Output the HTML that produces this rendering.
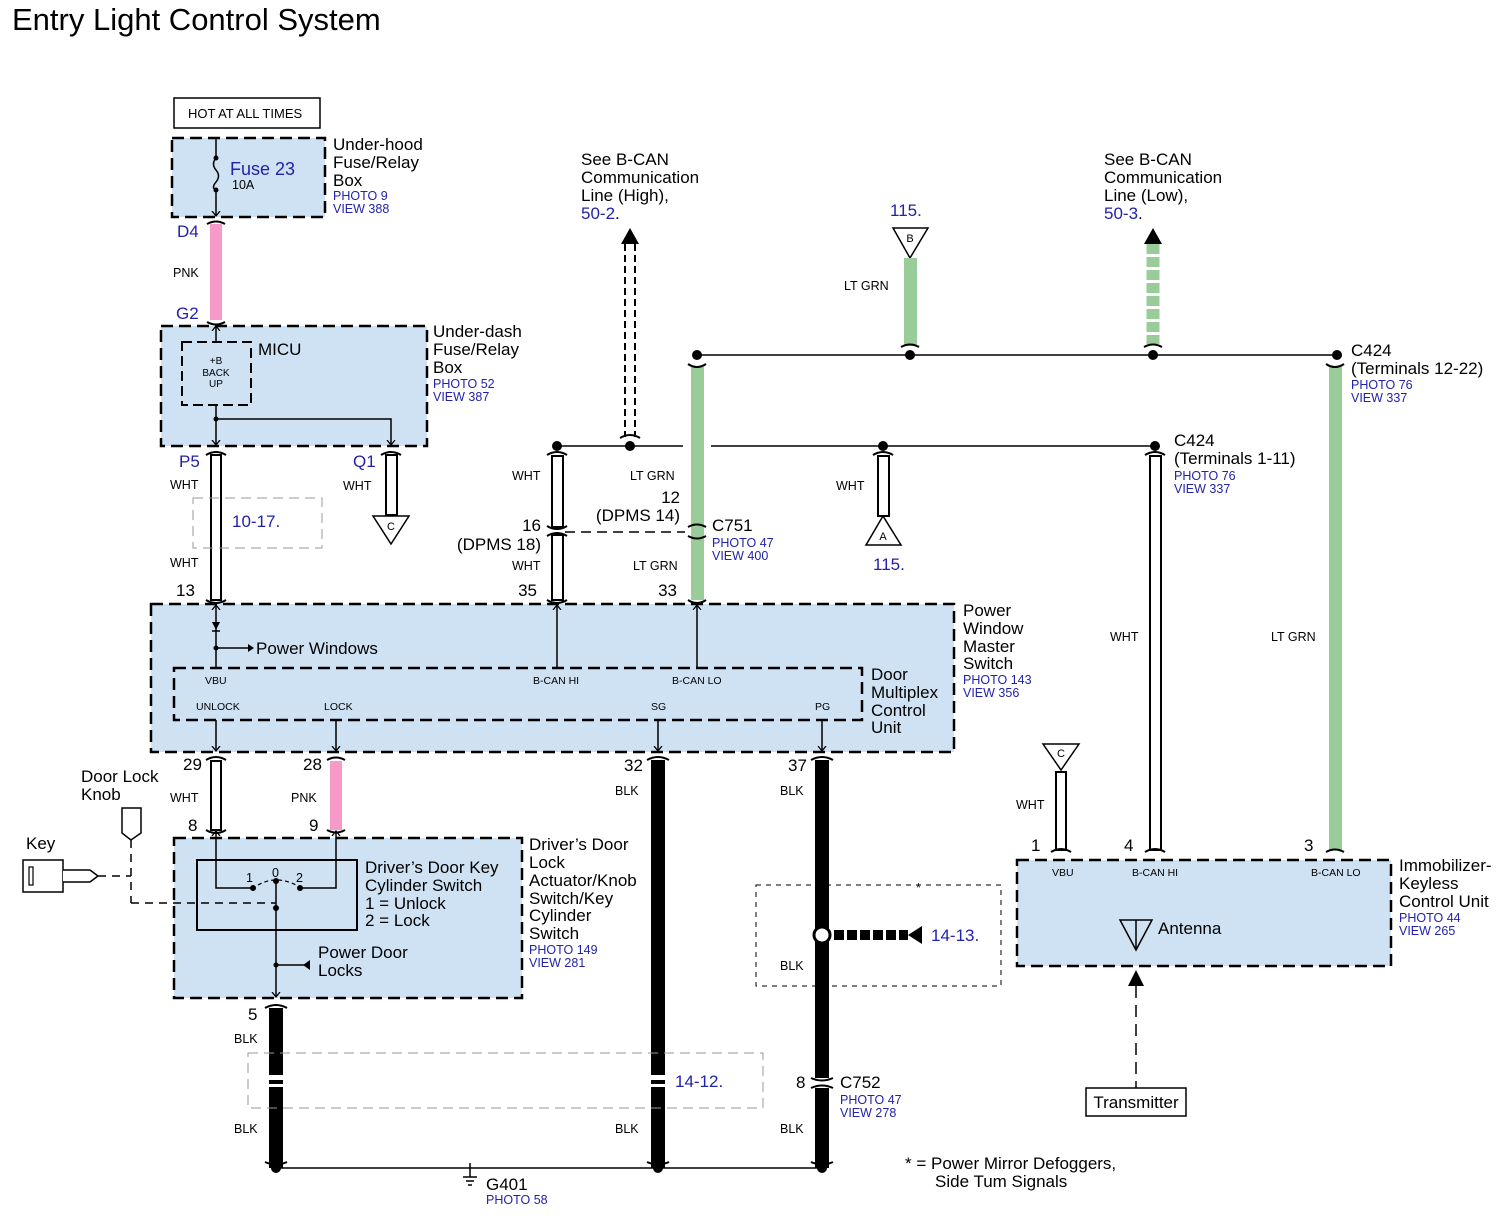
<!DOCTYPE html>
<html><head><meta charset="utf-8"><style>
html,body{margin:0;padding:0;background:#fff}
svg{display:block}
text{font-family:"Liberation Sans",sans-serif;fill:#000}
.b{fill:#2222aa}
.s{font-size:12.5px}
.m{font-size:17px}
.l{font-size:18px}
</style></head><body>
<svg width="1510" height="1222" viewBox="0 0 1510 1222" xmlns="http://www.w3.org/2000/svg">
<defs>
<marker id="ah" markerWidth="10" markerHeight="10" refX="5" refY="5" orient="auto" markerUnits="userSpaceOnUse"><path d="M0,1 L5,5 L0,9" fill="none" stroke="#000" stroke-width="1.3"/></marker>
</defs>
<text x="12" y="30" style="font-size:31px">Entry Light Control System</text>

<rect x="174" y="98" width="146" height="30" fill="#fff" stroke="#000" stroke-width="1.5"/>
<text x="188" y="118" style="font-size:13px">HOT AT ALL TIMES</text>

<rect x="172" y="138" width="153" height="79" fill="#cfe2f3" stroke="#000" stroke-width="2.5" stroke-dasharray="12,6"/>
<line x1="216" y1="138" x2="216" y2="158" stroke="#000" stroke-width="1.5"/>
<path d="M216,158 q-5,6 0,12 q5,6 0,12 q-5,6 0,8" fill="none" stroke="#000" stroke-width="1.5"/>
<circle cx="216" cy="158" r="2.5"/><circle cx="216" cy="190" r="2.5"/>
<line x1="216" y1="190" x2="216" y2="216" stroke="#000" stroke-width="1.5" marker-end="url(#ah)"/>
<text x="230" y="175" class="l b">Fuse 23</text>
<text x="232" y="189" class="s">10A</text>
<text x="333" y="150" class="m">Under-hood</text><text x="333" y="168" class="m">Fuse/Relay</text><text x="333" y="186" class="m">Box</text>
<text x="333" y="200" class="s b">PHOTO 9</text><text x="333" y="213" class="s b">VIEW 388</text>

<path d="M207,224 q9,-5 18,0 M207,322 q9,5 18,0" fill="none" stroke="#000" stroke-width="2"/>
<rect x="210" y="224" width="12" height="96" fill="#f79ac8"/>
<text x="177" y="237" class="m b">D4</text>
<text x="173" y="277" class="s">PNK</text>
<text x="176" y="319" class="m b">G2</text>

<rect x="161" y="326" width="266" height="120" fill="#cfe2f3" stroke="#000" stroke-width="2.5" stroke-dasharray="12,6"/>
<rect x="182" y="342" width="69" height="63" fill="#cfe2f3" stroke="#000" stroke-width="2" stroke-dasharray="10,5"/>
<line x1="216" y1="342" x2="216" y2="326" stroke="#000" stroke-width="1.5" marker-end="url(#ah)"/>
<text x="216" y="364" text-anchor="middle" style="font-size:10px">+B</text>
<text x="216" y="376" text-anchor="middle" style="font-size:10px">BACK</text>
<text x="216" y="387" text-anchor="middle" style="font-size:10px">UP</text>
<text x="258" y="355" class="m">MICU</text>
<line x1="216" y1="405" x2="216" y2="445" stroke="#000" stroke-width="1.5" marker-end="url(#ah)"/>
<circle cx="216" cy="419" r="2.5"/>
<polyline points="216,419 391,419 391,445" fill="none" stroke="#000" stroke-width="1.5" marker-end="url(#ah)"/>
<text x="433" y="337" class="m">Under-dash</text><text x="433" y="355" class="m">Fuse/Relay</text><text x="433" y="373" class="m">Box</text>
<text x="433" y="388" class="s b">PHOTO 52</text><text x="433" y="401" class="s b">VIEW 387</text>

<g stroke="#000" stroke-width="2" fill="none">
<path d="M206,455 q10,-6 20,0 M206,600 q10,6 20,0 M381,455 q10,-6 20,0"/>
</g>
<rect x="211" y="455" width="10" height="145" fill="#fff" stroke="#000" stroke-width="2"/>
<text x="179" y="467" class="m b">P5</text>
<text x="170" y="489" class="s">WHT</text>
<text x="170" y="567" class="s">WHT</text>
<text x="176" y="596" class="m">13</text>
<rect x="193" y="498" width="129" height="50" fill="none" stroke="#999" stroke-width="1" stroke-dasharray="10,6"/>
<rect x="209" y="500" width="14" height="46" fill="#fff"/>
<line x1="211" y1="500" x2="211" y2="546" stroke="#000" stroke-width="2"/><line x1="221" y1="500" x2="221" y2="546" stroke="#000" stroke-width="2"/>
<text x="232" y="527" class="m b">10-17.</text>
<rect x="386" y="455" width="11" height="60" fill="#fff" stroke="#000" stroke-width="2"/>
<polygon points="373,516 409,516 391,544" fill="#fff" stroke="#000" stroke-width="1.5"/>
<text x="391" y="530" text-anchor="middle" style="font-size:11px">C</text>
<text x="353" y="467" class="m b">Q1</text>
<text x="343" y="490" class="s">WHT</text>

<line x1="697" y1="355" x2="1337" y2="355" stroke="#000" stroke-width="1.5"/>
<circle cx="697" cy="355" r="5"/><circle cx="910" cy="355" r="5"/><circle cx="1153" cy="355" r="5"/><circle cx="1337" cy="355" r="5"/>
<line x1="557" y1="446" x2="683" y2="446" stroke="#000" stroke-width="1.5"/>
<line x1="711" y1="446" x2="1155" y2="446" stroke="#000" stroke-width="1.5"/>
<circle cx="557" cy="446" r="5"/><circle cx="630" cy="446" r="5"/><circle cx="883" cy="446" r="5"/><circle cx="1155" cy="446" r="5"/>

<g stroke="#000" stroke-width="2" fill="none">
<line x1="625" y1="244" x2="625" y2="437" stroke-dasharray="7,4"/>
<line x1="635" y1="244" x2="635" y2="437" stroke-dasharray="7,4"/>
<path d="M620,438 q10,-6 20,0"/>
</g>
<polygon points="621,244 639,244 630,228" fill="#000"/>
<text x="581" y="165" class="m">See B-CAN</text><text x="581" y="183" class="m">Communication</text><text x="581" y="201" class="m">Line (High),</text>
<text x="581" y="219" class="m"><tspan class="b">50-2</tspan>.</text>

<text x="890" y="216" class="m b">115.</text>
<polygon points="893,228 928,228 910,258" fill="#fff" stroke="#000" stroke-width="1.5"/>
<text x="910" y="242" text-anchor="middle" style="font-size:11px">B</text>
<rect x="904" y="258" width="13" height="88" fill="#99cc99"/>
<path d="M901,347 q9,-5 18,0" stroke="#000" stroke-width="2" fill="none"/>
<text x="844" y="290" class="s">LT GRN</text>

<line x1="1153" y1="244" x2="1153" y2="344" stroke="#99cc99" stroke-width="13" stroke-dasharray="10,3"/>
<polygon points="1144,244 1162,244 1153,228" fill="#000"/>
<path d="M1144,347 q9,-5 18,0" stroke="#000" stroke-width="2" fill="none"/>
<text x="1104" y="165" class="m">See B-CAN</text><text x="1104" y="183" class="m">Communication</text><text x="1104" y="201" class="m">Line (Low),</text>
<text x="1104" y="219" class="m"><tspan class="b">50-3</tspan>.</text>

<text x="1351" y="356" class="m">C424</text><text x="1351" y="374" class="m">(Terminals 12-22)</text>
<text x="1351" y="389" class="s b">PHOTO 76</text><text x="1351" y="402" class="s b">VIEW 337</text>
<rect x="1329" y="367" width="13" height="483" fill="#99cc99"/>
<path d="M1326,364 q9,6 18,0 M1326,852 q9,-5 18,0" stroke="#000" stroke-width="2" fill="none"/>
<text x="1271" y="641" class="s">LT GRN</text>

<text x="1174" y="446" class="m">C424</text><text x="1174" y="464" class="m">(Terminals 1-11)</text>
<text x="1174" y="480" class="s b">PHOTO 76</text><text x="1174" y="493" class="s b">VIEW 337</text>
<rect x="1150" y="456" width="11" height="394" fill="#fff" stroke="#000" stroke-width="2"/>
<path d="M1145,455 q10,-6 20,0 M1145,852 q10,-6 20,0" stroke="#000" stroke-width="2" fill="none"/>
<text x="1110" y="641" class="s">WHT</text>

<rect x="878" y="456" width="11" height="60" fill="#fff" stroke="#000" stroke-width="2"/>
<path d="M873,455 q10,-6 20,0" stroke="#000" stroke-width="2" fill="none"/>
<polygon points="866,545 901,545 883,516" fill="#fff" stroke="#000" stroke-width="1.5"/>
<text x="883" y="540" text-anchor="middle" style="font-size:11px">A</text>
<text x="873" y="570" class="m b">115.</text>
<text x="836" y="490" class="s">WHT</text>

<rect x="552" y="456" width="11" height="71" fill="#fff" stroke="#000" stroke-width="2"/>
<rect x="552" y="535" width="11" height="65" fill="#fff" stroke="#000" stroke-width="2"/>
<path d="M547,455 q10,-6 20,0 M547,526 q10,6 20,0 M547,536 q10,-6 20,0 M547,600 q10,6 20,0" stroke="#000" stroke-width="2" fill="none"/>
<line x1="565" y1="532" x2="685" y2="532" stroke="#000" stroke-width="1.5" stroke-dasharray="10,6"/>
<text x="512" y="480" class="s">WHT</text>
<text x="541" y="531" class="m" text-anchor="end">16</text>
<text x="541" y="550" class="m" text-anchor="end">(DPMS 18)</text>
<text x="512" y="570" class="s">WHT</text>
<text x="537" y="596" class="m" text-anchor="end">35</text>

<rect x="691" y="367" width="13" height="233" fill="#99cc99"/>
<path d="M688,364 q9,6 18,0 M688,527 q9,-5 18,0 M688,536 q9,5 18,0 M688,600 q9,6 18,0" stroke="#000" stroke-width="2" fill="none"/>
<text x="630" y="480" class="s">LT GRN</text>
<text x="680" y="503" class="m" text-anchor="end">12</text>
<text x="680" y="521" class="m" text-anchor="end">(DPMS 14)</text>
<text x="712" y="531" class="m">C751</text>
<text x="712" y="547" class="s b">PHOTO 47</text><text x="712" y="560" class="s b">VIEW 400</text>
<text x="633" y="570" class="s">LT GRN</text>
<text x="677" y="596" class="m" text-anchor="end">33</text>

<rect x="151" y="604" width="803" height="148" fill="#cfe2f3" stroke="#000" stroke-width="2.5" stroke-dasharray="12,6"/>
<rect x="174" y="668" width="688" height="52" fill="none" stroke="#000" stroke-width="2.5" stroke-dasharray="12,6"/>
<line x1="216" y1="668" x2="216" y2="605" stroke="#000" stroke-width="1.5" marker-end="url(#ah)"/>
<polygon points="212,622 220,622 216,630" fill="#000"/><line x1="212" y1="631" x2="220" y2="631" stroke="#000" stroke-width="1.5"/>
<circle cx="216" cy="648" r="2.5"/>
<line x1="216" y1="648" x2="248" y2="648" stroke="#000" stroke-width="1.5"/><polygon points="248,644 254,648 248,652" fill="#000"/>
<text x="256" y="654" class="m">Power Windows</text>
<line x1="557" y1="668" x2="557" y2="605" stroke="#000" stroke-width="1.5" marker-end="url(#ah)"/>
<line x1="697" y1="668" x2="697" y2="605" stroke="#000" stroke-width="1.5" marker-end="url(#ah)"/>
<text x="205" y="684" style="font-size:10.5px">VBU</text>
<text x="533" y="684" style="font-size:10.5px">B-CAN HI</text>
<text x="672" y="684" style="font-size:10.5px">B-CAN LO</text>
<text x="196" y="710" style="font-size:10.5px">UNLOCK</text>
<text x="324" y="710" style="font-size:10.5px">LOCK</text>
<text x="651" y="710" style="font-size:10.5px">SG</text>
<text x="815" y="710" style="font-size:10.5px">PG</text>
<line x1="216" y1="720" x2="216" y2="751" stroke="#000" stroke-width="1.5" marker-end="url(#ah)"/>
<line x1="336" y1="720" x2="336" y2="751" stroke="#000" stroke-width="1.5" marker-end="url(#ah)"/>
<line x1="658" y1="720" x2="658" y2="751" stroke="#000" stroke-width="1.5" marker-end="url(#ah)"/>
<line x1="822" y1="720" x2="822" y2="751" stroke="#000" stroke-width="1.5" marker-end="url(#ah)"/>
<text x="871" y="680" class="m">Door</text><text x="871" y="698" class="m">Multiplex</text><text x="871" y="716" class="m">Control</text><text x="871" y="733" class="m">Unit</text>
<text x="963" y="616" class="m">Power</text><text x="963" y="634" class="m">Window</text><text x="963" y="652" class="m">Master</text><text x="963" y="669" class="m">Switch</text>
<text x="963" y="684" class="s b">PHOTO 143</text><text x="963" y="697" class="s b">VIEW 356</text>

<rect x="211" y="761" width="10" height="69" fill="#fff" stroke="#000" stroke-width="2"/>
<path d="M206,760 q10,-6 20,0 M206,830 q10,6 20,0 M327,760 q9,-5 18,0 M327,830 q9,5 18,0" stroke="#000" stroke-width="2" fill="none"/>
<rect x="330" y="761" width="12" height="69" fill="#f79ac8"/>
<text x="183" y="770" class="m">29</text><text x="170" y="802" class="s">WHT</text><text x="188" y="831" class="m">8</text>
<text x="303" y="770" class="m">28</text><text x="291" y="802" class="s">PNK</text><text x="309" y="831" class="m">9</text>
<rect x="651" y="760" width="14" height="408" fill="#000"/>
<rect x="815" y="760" width="14" height="408" fill="#000"/>
<path d="M647,760 q11,-6 22,0 M811,760 q11,-6 22,0" stroke="#000" stroke-width="2" fill="none"/>
<text x="624" y="771" class="m">32</text><text x="615" y="795" class="s">BLK</text>
<text x="788" y="771" class="m">37</text><text x="780" y="795" class="s">BLK</text>
<text x="615" y="1133" class="s">BLK</text>
<text x="780" y="1133" class="s">BLK</text>

<rect x="812" y="1078" width="20" height="10" fill="#fff"/>
<path d="M811,1078 q11,5 22,0 M811,1088 q11,-5 22,0" stroke="#000" stroke-width="2" fill="none"/>
<text x="796" y="1088" class="m">8</text>
<text x="840" y="1088" class="m">C752</text>
<text x="840" y="1104" class="s b">PHOTO 47</text><text x="840" y="1117" class="s b">VIEW 278</text>

<rect x="756" y="885" width="245" height="101" fill="none" stroke="#000" stroke-width="1" stroke-dasharray="5,5"/>
<text x="916" y="892" class="s">*</text>
<circle cx="822" cy="935" r="8" fill="#fff" stroke="#000" stroke-width="3"/>
<line x1="834" y1="935" x2="908" y2="935" stroke="#000" stroke-width="10" stroke-dasharray="10,3"/>
<polygon points="908,926 908,944 922,935" fill="#000" transform="rotate(180 915 935)"/>
<text x="931" y="941" class="m b">14-13.</text>
<text x="780" y="970" class="s">BLK</text>

<rect x="174" y="838" width="348" height="160" fill="#cfe2f3" stroke="#000" stroke-width="2.5" stroke-dasharray="12,6"/>
<rect x="197" y="860" width="160" height="70" fill="none" stroke="#000" stroke-width="2"/>
<polyline points="253,888 216,888 216,831" fill="none" stroke="#000" stroke-width="1.5" marker-end="url(#ah)"/>
<polyline points="300,888 336,888 336,831" fill="none" stroke="#000" stroke-width="1.5" marker-end="url(#ah)"/>
<circle cx="253" cy="888" r="3"/><circle cx="300" cy="888" r="3"/><circle cx="276" cy="881" r="3"/><circle cx="276" cy="908" r="3"/>
<path d="M258,885 q18,-10 38,0" fill="none" stroke="#000" stroke-width="1.2" stroke-dasharray="4,3"/>
<line x1="276" y1="881" x2="276" y2="997" stroke="#000" stroke-width="1.5" marker-end="url(#ah)"/>
<circle cx="276" cy="965" r="2.5"/>
<line x1="276" y1="965" x2="304" y2="965" stroke="#000" stroke-width="1.5"/><polygon points="310,960 310,970 303,965" fill="#000"/>
<text x="246" y="882" class="s">1</text><text x="272" y="877" class="s">0</text><text x="296" y="882" class="s">2</text>
<text x="365" y="873" class="m">Driver’s Door Key</text><text x="365" y="891" class="m">Cylinder Switch</text>
<text x="365" y="909" class="m">1 = Unlock</text><text x="365" y="926" class="m">2 = Lock</text>
<text x="318" y="958" class="m">Power Door</text><text x="318" y="976" class="m">Locks</text>
<text x="529" y="850" class="m">Driver’s Door</text><text x="529" y="868" class="m">Lock</text><text x="529" y="886" class="m">Actuator/Knob</text>
<text x="529" y="904" class="m">Switch/Key</text><text x="529" y="921" class="m">Cylinder</text><text x="529" y="939" class="m">Switch</text>
<text x="529" y="954" class="s b">PHOTO 149</text><text x="529" y="967" class="s b">VIEW 281</text>

<text x="81" y="782" class="m">Door Lock</text><text x="81" y="800" class="m">Knob</text>
<path d="M122,808 L141,808 L141,833 L131,840 L122,833 Z" fill="#fff" stroke="#000" stroke-width="1.5"/>
<line x1="131" y1="840" x2="131" y2="903" stroke="#000" stroke-width="1.5" stroke-dasharray="8,6"/>
<line x1="131" y1="903" x2="276" y2="903" stroke="#000" stroke-width="1.5" stroke-dasharray="8,6"/>
<text x="26" y="849" class="m">Key</text>
<rect x="23" y="860" width="40" height="32" fill="#fff" stroke="#000" stroke-width="1.5"/>
<rect x="29" y="867" width="4" height="18" fill="#fff" stroke="#000" stroke-width="1.2"/>
<path d="M63,870 L90,870 L98,876 L90,882 L63,882" fill="#fff" stroke="#000" stroke-width="1.5"/>
<line x1="98" y1="876" x2="131" y2="876" stroke="#000" stroke-width="1.5" stroke-dasharray="8,6"/>

<rect x="269" y="1008" width="14" height="160" fill="#000"/>
<path d="M265,1008 q11,-6 22,0" stroke="#000" stroke-width="2" fill="none"/>
<text x="248" y="1020" class="m">5</text><text x="234" y="1043" class="s">BLK</text><text x="234" y="1133" class="s">BLK</text>

<rect x="248" y="1053" width="515" height="55" fill="none" stroke="#999" stroke-width="1" stroke-dasharray="10,6"/>
<rect x="266" y="1075" width="20" height="5" fill="#fff"/><rect x="266" y="1084" width="20" height="3" fill="#fff"/>
<rect x="648" y="1075" width="20" height="5" fill="#fff"/><rect x="648" y="1084" width="20" height="3" fill="#fff"/>
<text x="675" y="1087" class="m b">14-12.</text>

<line x1="276" y1="1168" x2="822" y2="1168" stroke="#000" stroke-width="1.5"/>
<circle cx="276" cy="1168" r="5"/><circle cx="658" cy="1168" r="5"/><circle cx="822" cy="1168" r="5"/>
<path d="M265,1162 q11,5 22,0 M647,1162 q11,5 22,0 M811,1162 q11,5 22,0" stroke="#000" stroke-width="2" fill="none"/>
<line x1="470" y1="1163" x2="470" y2="1177" stroke="#000" stroke-width="1.5"/>
<line x1="463" y1="1177" x2="477" y2="1177" stroke="#000" stroke-width="1.5"/>
<line x1="466" y1="1181" x2="474" y2="1181" stroke="#000" stroke-width="1.5"/>
<line x1="468" y1="1185" x2="472" y2="1185" stroke="#000" stroke-width="1.5"/>
<text x="486" y="1190" class="m">G401</text><text x="486" y="1204" class="s b">PHOTO 58</text>
<text x="905" y="1169" class="m">* = Power Mirror Defoggers,</text>
<text x="935" y="1187" class="m">Side Tum Signals</text>

<polygon points="1043,744 1079,744 1061,770" fill="#fff" stroke="#000" stroke-width="1.5"/>
<text x="1061" y="757" text-anchor="middle" style="font-size:11px">C</text>
<rect x="1056" y="772" width="10" height="78" fill="#fff" stroke="#000" stroke-width="2"/>
<path d="M1051,852 q10,-6 20,0" stroke="#000" stroke-width="2" fill="none"/>
<text x="1016" y="809" class="s">WHT</text>
<text x="1031" y="851" class="m">1</text><text x="1124" y="851" class="m">4</text><text x="1304" y="851" class="m">3</text>
<rect x="1017" y="860" width="374" height="106" fill="#cfe2f3" stroke="#000" stroke-width="2.5" stroke-dasharray="12,6"/>
<text x="1052" y="876" style="font-size:10.5px">VBU</text>
<text x="1132" y="876" style="font-size:10.5px">B-CAN HI</text>
<text x="1311" y="876" style="font-size:10.5px">B-CAN LO</text>
<polygon points="1120,920 1152,920 1136,950" fill="none" stroke="#000" stroke-width="1.5"/>
<line x1="1136" y1="920" x2="1136" y2="950" stroke="#000" stroke-width="1.5"/>
<text x="1158" y="934" class="m">Antenna</text>
<text x="1399" y="871" class="m">Immobilizer-</text><text x="1399" y="889" class="m">Keyless</text><text x="1399" y="907" class="m">Control Unit</text>
<text x="1399" y="922" class="s b">PHOTO 44</text><text x="1399" y="935" class="s b">VIEW 265</text>
<polygon points="1128,986 1144,986 1136,970" fill="#000"/>
<line x1="1136" y1="986" x2="1136" y2="1088" stroke="#000" stroke-width="1.5" stroke-dasharray="12,7"/>
<rect x="1086" y="1088" width="100" height="28" fill="#fff" stroke="#000" stroke-width="1.5"/>
<text x="1136" y="1108" class="m" text-anchor="middle">Transmitter</text>
</svg>
</body></html>
